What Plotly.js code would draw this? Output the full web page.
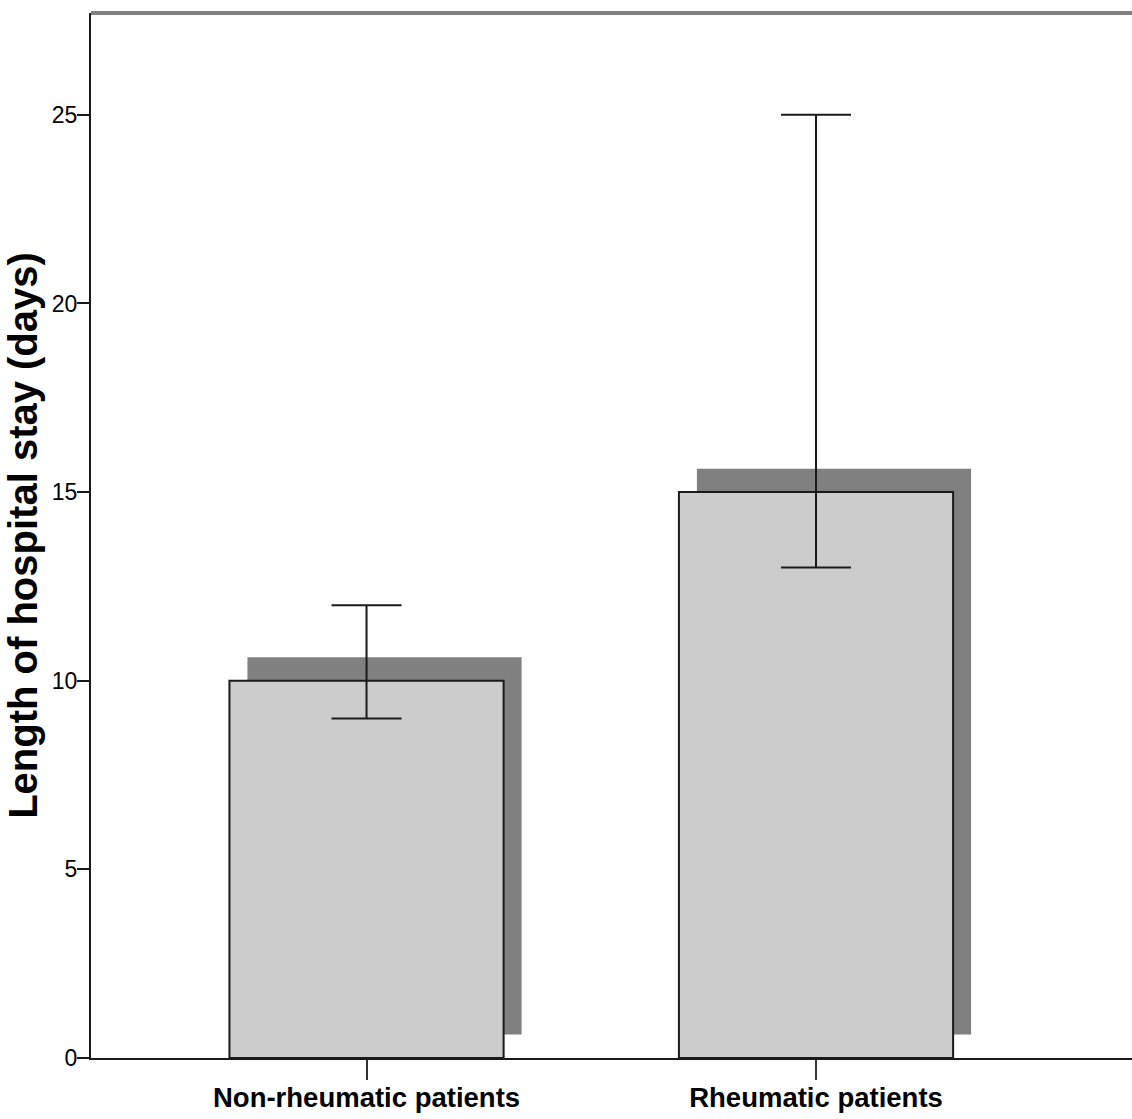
<!DOCTYPE html>
<html>
<head>
<meta charset="utf-8">
<script src="https://cdn.plot.ly/plotly-3.0.1.min.js"></script>
<style>body{margin:0;padding:0;background:#fff;}#chart{width:1132px;height:1119px;}</style>
</head>
<body>
<div id="chart"></div>
<script>
// Data
const categories = ["Non-rheumatic patients", "Rheumatic patients"];
const meanStay = [10, 15];
const ciUpper = [12, 25];
const ciLower = [9, 13];
const yTickValues = [0, 5, 10, 15, 20, 25];
const yTitle = "Length of hospital stay (days)";

const errPlus = meanStay.map((v, i) => ciUpper[i] - v);
const errMinus = meanStay.map((v, i) => v - ciLower[i]);

const barWidth = 0.61;
const shadowShiftX = 0.04;
const shadowShiftY = 0.62;

const shadow = {
  type: 'bar',
  x: categories,
  y: meanStay,
  base: meanStay.map(() => shadowShiftY),
  width: barWidth,
  offset: -barWidth / 2 + shadowShiftX,
  marker: {color: '#808080', line: {width: 0}},
  hoverinfo: 'skip',
  showlegend: false
};

const bars = {
  type: 'bar',
  x: categories,
  y: meanStay,
  width: barWidth,
  offset: -barWidth / 2,
  marker: {color: '#cccccc', line: {color: '#1a1a1a', width: 2}},
  error_y: {
    type: 'data',
    symmetric: false,
    array: errPlus,
    arrayminus: errMinus,
    color: '#1a1a1a',
    thickness: 2,
    width: 35
  },
  showlegend: false
};

const layout = {
  width: 1132,
  height: 1119,
  margin: {l: 91, r: 0, t: 13, b: 61, pad: 0},
  paper_bgcolor: '#ffffff',
  plot_bgcolor: '#ffffff',
  barmode: 'overlay',
  font: {family: 'Liberation Sans, Arial, sans-serif', color: '#000'},
  xaxis: {
    type: 'category',
    range: [-0.613, 1.703],
    showgrid: false,
    zeroline: false,
    showline: true,
    linecolor: '#1a1a1a',
    linewidth: 2,
    ticks: 'outside',
    ticklen: 20,
    tickwidth: 2,
    tickcolor: '#333333',
    ticklabelstandoff: -6,
    tickfont: {family: 'Liberation Sans, Arial, sans-serif', size: 27.5, weight: 'bold', color: '#000'},
    automargin: false,
    fixedrange: true
  },
  yaxis: {
    range: [0, 27.7],
    tickvals: yTickValues,
    showgrid: false,
    zeroline: false,
    showline: true,
    linecolor: '#1a1a1a',
    linewidth: 2,
    ticks: 'outside',
    ticklen: 12,
    tickwidth: 2,
    tickcolor: '#1a1a1a',
    ticklabelstandoff: -5,
    tickfont: {family: 'Liberation Sans, Arial, sans-serif', size: 23, color: '#000'},
    title: {
      text: yTitle,
      font: {family: 'Liberation Sans, Arial, sans-serif', size: 40, weight: 'bold', color: '#000'},
      standoff: 2
    },
    automargin: false,
    fixedrange: true
  },
  shapes: [{
    type: 'line', xref: 'paper', yref: 'paper',
    x0: 0, x1: 1, y0: 1, y1: 1,
    line: {color: '#808080', width: 4}
  }]
};

Plotly.newPlot('chart', [shadow, bars], layout, {displayModeBar: false, staticPlot: true});
</script>
</body>
</html>
